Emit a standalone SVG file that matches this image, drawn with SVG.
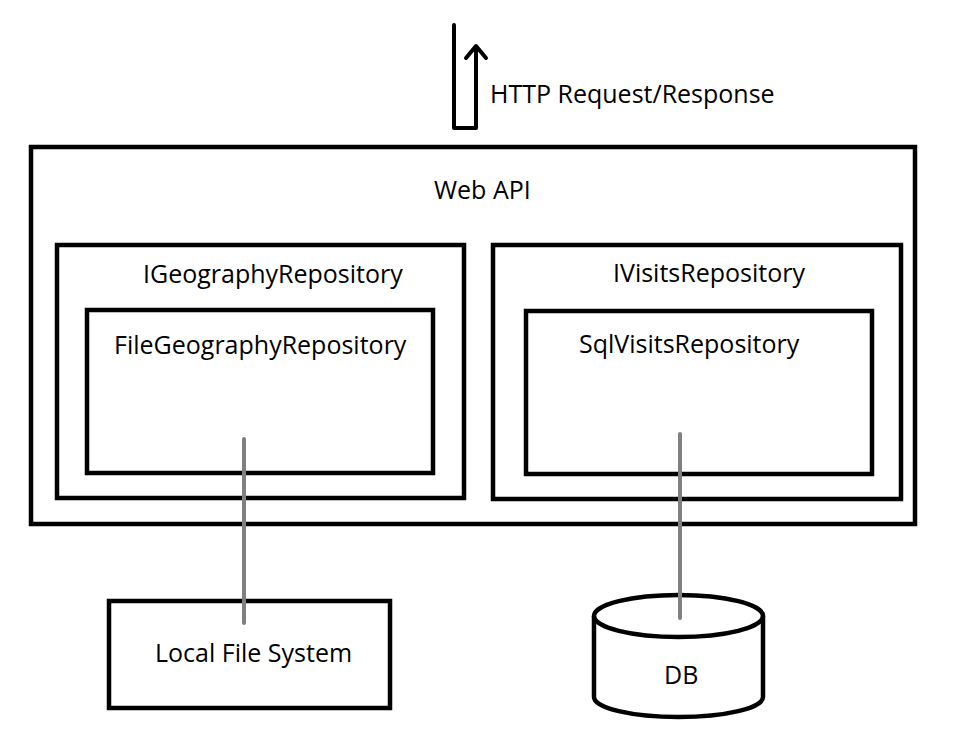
<svg xmlns="http://www.w3.org/2000/svg" width="954" height="756" viewBox="0 0 954 756">
<style>
.box{fill:none;stroke:#000;stroke-width:4.5}
.lbl{font-family:"Open Sans","Noto Sans",sans-serif;font-size:25px;fill:#000}
.link{stroke:#808080;stroke-width:4;stroke-linecap:round;fill:none}
</style>
<rect width="954" height="756" fill="#fff"/>
<g id="webapi">
<rect class="box" x="31" y="147" width="884" height="377"/>
<text class="lbl" x="434" y="199">Web API</text>
</g>
<g id="igeo">
<rect class="box" x="57" y="245" width="407" height="253"/>
<text class="lbl" x="143" y="283">IGeographyRepository</text>
</g>
<g id="filegeo">
<rect class="box" x="87" y="310" width="346" height="163"/>
<text class="lbl" x="114" y="354">FileGeographyRepository</text>
</g>
<g id="ivisits">
<rect class="box" x="493" y="245" width="408" height="254"/>
<text class="lbl" x="613" y="282">IVisitsRepository</text>
</g>
<g id="sqlvisits">
<rect class="box" x="526" y="311" width="346" height="163"/>
<text class="lbl" x="579" y="353">SqlVisitsRepository</text>
</g>
<g id="localfs">
<rect class="box" x="109" y="601" width="281" height="107"/>
<text class="lbl" x="155" y="662">Local File System</text>
</g>
<g id="db">
<path class="box" d="M594,616 L594,697 A84.5,20 0 0 0 763,697 L763,616"/>
<ellipse class="box" cx="678.5" cy="616" rx="84.5" ry="21"/>
<text class="lbl" x="664" y="684">DB</text>
</g>
<g id="connectors">
<line class="link" x1="244" y1="439" x2="244" y2="623"/>
<line class="link" x1="680" y1="434" x2="680" y2="618"/>
<path d="M454,25 L454,128 L476,128 L476,47 M466,58 L476,46 L486,58" fill="none" stroke="#000" stroke-width="4" stroke-linecap="round" stroke-linejoin="round"/>
<text class="lbl" x="490" y="103">HTTP Request/Response</text>
</g>
</svg>
